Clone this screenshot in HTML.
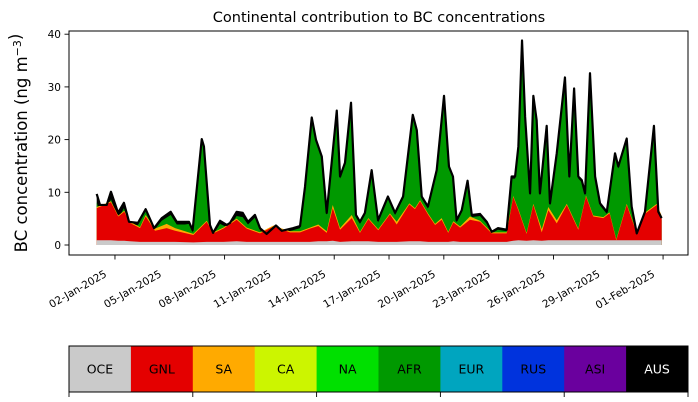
<!DOCTYPE html>
<html><head><meta charset="utf-8"><style>
html,body{margin:0;padding:0;background:#fff;width:698px;height:402px;overflow:hidden}
svg{display:block;font-family:"DejaVu Sans","Liberation Sans",sans-serif}
</style></head><body>
<svg id="chart" width="698" height="402" viewBox="0 0 698 402">
<text x="379" y="22" font-size="14.5" text-anchor="middle">Continental contribution to BC concentrations</text>
<text transform="translate(27,143) rotate(-90)" font-size="16.5" text-anchor="middle">BC concentration (ng m<tspan dy="-6" font-size="11">−3</tspan>)</text>
<defs><clipPath id="pc"><rect x="69" y="31" width="619" height="224"/></clipPath></defs>
<g id="areas" clip-path="url(#pc)"></g>
<rect x="69" y="31" width="619" height="224" fill="none" stroke="#000" stroke-width="1"/>
<g id="axes"></g>
<g id="cbar"></g>
</svg>
<script>
const tTot=[0,0.18,0.55,0.78,1.17,1.49,1.77,2.26,2.68,3.14,3.56,4.05,4.38,4.83,5.05,5.25,5.75,5.87,6.2,6.37,6.75,7.12,7.3,7.66,7.99,8.28,8.66,8.94,9.3,9.81,10.13,10.74,11.13,11.4,11.77,12.0,12.32,12.59,13.14,13.32,13.59,13.92,14.19,14.41,14.68,15.05,15.4,15.94,16.33,16.77,17.3,17.52,17.79,18.13,18.61,19.01,19.28,19.5,19.7,19.98,20.3,20.53,20.98,21.35,21.62,21.96,22.44,22.71,22.9,23.08,23.28,23.45,23.72,23.9,24.08,24.26,24.63,24.81,25.18,25.63,25.87,26.13,26.36,26.55,26.73,27.0,27.28,27.55,27.92,28.37,28.55,29.01,29.28,29.56,30.01,30.5,30.74,30.92];
const totalBC=[9.7,7.6,7.6,10.1,6.1,8.0,4.4,4.2,6.8,3.2,5.1,6.3,4.4,4.4,4.4,2.8,20.1,18.7,3.8,2.3,4.6,3.8,4.2,6.3,6.1,4.4,5.7,3.2,2.1,3.7,2.7,3.2,3.6,11.0,24.2,20.0,16.8,6.1,25.5,13.0,15.6,27.0,5.7,4.4,6.1,14.2,4.7,9.2,6.1,9.2,24.7,21.8,9.2,7.3,14.2,28.3,14.9,13.0,4.7,6.6,12.2,5.7,5.9,4.4,2.5,3.2,2.9,13.0,13.0,18.7,38.8,24.3,9.8,28.3,23.7,9.8,22.6,7.9,17.4,31.8,13.0,29.7,13.0,12.3,9.8,32.6,13.0,7.9,6.3,17.4,14.9,20.2,7.3,2.2,6.3,22.6,6.3,5.1];
const otherBC=[1.6,1.5,1.5,1.4,1.2,1.0,0.5,0.4,0.4,0.4,0.5,0.6,0.5,0.5,0.4,0.4,0.4,0.4,0.4,0.4,0.6,0.4,0.6,0.8,0.8,0.5,0.5,0.4,0.4,0.4,0.4,0.4,0.4,0.4,0.4,0.4,0.4,0.4,0.4,0.4,0.4,0.4,0.4,0.4,0.4,0.4,0.4,0.4,0.4,0.4,0.4,0.4,0.4,0.4,0.4,0.4,0.4,0.4,0.4,0.4,0.4,0.4,0.4,0.4,0.3,0.3,0.3,0.4,0.4,0.4,0.4,0.4,0.4,0.4,0.4,0.4,0.4,0.4,0.4,0.4,0.4,0.4,0.4,0.4,0.4,0.4,0.4,0.4,0.4,0.4,0.4,0.4,0.4,0.3,0.4,0.4,0.4,0.4];
const tReg=[0,0.78,1.18,1.51,1.82,2.37,2.68,3.19,3.83,4.29,5.29,6.02,6.38,6.93,7.66,8.21,8.94,9.67,10.58,11.13,11.67,12.13,12.59,12.92,13.32,13.96,14.41,14.87,15.41,16.05,16.42,17.11,17.42,17.7,18.15,18.52,18.88,19.24,19.52,19.89,20.43,20.98,21.62,22.44,22.8,23.08,23.53,23.9,24.36,24.72,25.18,25.73,26.36,26.78,27.18,27.73,28.07,28.44,29.01,29.56,29.92,30.65,30.92];
const oceBC=[0.9,0.9,0.8,0.8,0.7,0.6,0.6,0.6,0.6,0.6,0.5,0.6,0.6,0.6,0.7,0.6,0.6,0.6,0.6,0.6,0.6,0.7,0.7,0.8,0.6,0.7,0.7,0.7,0.6,0.6,0.6,0.7,0.7,0.7,0.6,0.6,0.6,0.6,0.7,0.6,0.6,0.6,0.6,0.6,0.8,0.9,0.8,0.9,0.8,0.9,0.9,0.9,0.9,0.9,0.9,0.9,0.9,0.9,0.9,0.9,0.9,0.9,0.9];
const gnlBC=[6.1,7.2,4.6,5.5,3.5,2.6,4.8,2.1,2.6,2.1,1.4,3.8,1.6,2.5,4.1,2.5,1.6,2.9,1.8,1.8,2.5,2.9,1.6,6.2,2.3,4.4,1.6,4.2,2.2,5.2,3.3,7.0,6.1,7.6,5.1,3.2,4.2,1.7,3.6,2.7,4.2,3.8,1.6,1.6,8.3,5.7,1.3,6.7,1.6,5.7,3.2,6.7,2.0,8.3,4.5,4.2,5.1,0.0,6.7,1.3,4.8,6.7,4.5];
const saBC=[0.2,0.2,0.2,0.2,0.2,0.2,0.3,0.4,0.8,0.5,0.2,0.2,0.2,0.2,0.2,0.2,0.2,0.2,0.2,0.2,0.2,0.3,0.3,0.6,0.3,0.6,0.2,0.2,0.2,0.2,0.5,0.2,0.2,0.2,0.2,0.2,0.3,0.2,0.2,0.2,0.6,0.2,0.2,0.2,0.2,0.2,0.2,0.2,0.6,0.6,0.6,0.2,0.2,0.2,0.2,0.2,0.2,0.2,0.2,0.2,0.2,0.2,0.2];
const tickDays=[1,4,7,10,13,16,19,22,25,28,31];
const tickLabels=["02-Jan-2025","05-Jan-2025","08-Jan-2025","11-Jan-2025","14-Jan-2025","17-Jan-2025","20-Jan-2025","23-Jan-2025","26-Jan-2025","29-Jan-2025","01-Feb-2025"];
const yTicks=[0,10,20,30,40];
const regions=["OCE","GNL","SA","CA","NA","AFR","EUR","RUS","ASI","AUS"];
const regionColors=["#cacaca","#e40000","#ffaa00","#ccf500","#00e000","#009900","#00a5bf","#0033dd","#6a009e","#000000"];

const NS="http://www.w3.org/2000/svg";
const xs=d=>96.7+d*18.27;
const ys=v=>245-v*5.27;
function areaPath(t,vals){
  let p="M"+xs(t[0]).toFixed(2)+","+ys(0);
  for(let i=0;i<t.length;i++)p+="L"+xs(t[i]).toFixed(2)+","+ys(vals[i]).toFixed(2);
  p+="L"+xs(t[t.length-1]).toFixed(2)+","+ys(0)+"Z";
  return p;
}
function mk(tag,attrs,parent){const e=document.createElementNS(NS,tag);for(const k in attrs)e.setAttribute(k,attrs[k]);parent.appendChild(e);return e;}
const areas=document.getElementById("areas");
const greenTop=totalBC.map((v,i)=>v-otherBC[i]);
const sumR=(i,k)=>oceBC[i]+(k>0?gnlBC[i]:0)+(k>1?saBC[i]:0);
let e;
e=mk("path",{d:areaPath(tTot,totalBC),fill:"#000"},areas);


e=mk("path",{d:areaPath(tTot,greenTop),fill:"#009900"},areas);


e=mk("path",{d:areaPath(tReg,tReg.map((_,i)=>sumR(i,2))),fill:"#ffaa00"},areas);


e=mk("path",{d:areaPath(tReg,tReg.map((_,i)=>sumR(i,1))),fill:"#e40000"},areas);


e=mk("path",{d:areaPath(tReg,oceBC),fill:"#cacaca"},areas);


e=mk("polyline",{points:tTot.map((t,i)=>xs(t).toFixed(2)+","+ys(totalBC[i]).toFixed(2)).join(" "),fill:"none",stroke:"#000",
 "stroke-width":"2.2","stroke-linejoin":"round"},areas);



const axes=document.getElementById("axes");
tickDays.forEach((d,i)=>{
  const x=xs(d);
  e=mk("line",{x1:x,x2:x,y1:255,y2:259.5,stroke:"#000","stroke-width":"0.9"},axes);
  
  
  e=mk("text",{transform:`translate(${x-7.5},${276}) rotate(-30)`,"text-anchor":"end","font-size":"10.5"},axes);
  e.textContent=tickLabels[i];
  
  
});
yTicks.forEach(v=>{
  const y=ys(v);
  e=mk("line",{x1:64.5,x2:69,y1:y,y2:y,stroke:"#000","stroke-width":"0.9"},axes);
  
  
  e=mk("text",{x:61,y:y+4,"text-anchor":"end","font-size":"10.5"},axes);
  e.textContent=String(v);
  
  
});
const cb=document.getElementById("cbar");
const cx0=69,cw=61.9,cy=346,ch=46;
regions.forEach((r,i)=>{
  e=mk("rect",{x:cx0+i*cw,y:cy,width:cw+0.5,height:ch,fill:regionColors[i]},cb);
  
  
  e=mk("text",{x:cx0+i*cw+cw/2,y:cy+ch/2+4.5,"text-anchor":"middle","font-size":"12.5",fill:r==="AUS"?"#fff":"#000"},cb);
  e.textContent=r;
  
  
});
e=mk("rect",{x:cx0,y:cy,width:619,height:ch,fill:"none",stroke:"#000","stroke-width":"1"},cb);


[0,2,4,6,8,10].forEach(k=>{
  const x=cx0+k*cw;
  e=mk("line",{x1:x,x2:x,y1:cy+ch,y2:cy+ch+5,stroke:"#000","stroke-width":"0.9"},cb);
  
  
});
</script>
</body></html>
